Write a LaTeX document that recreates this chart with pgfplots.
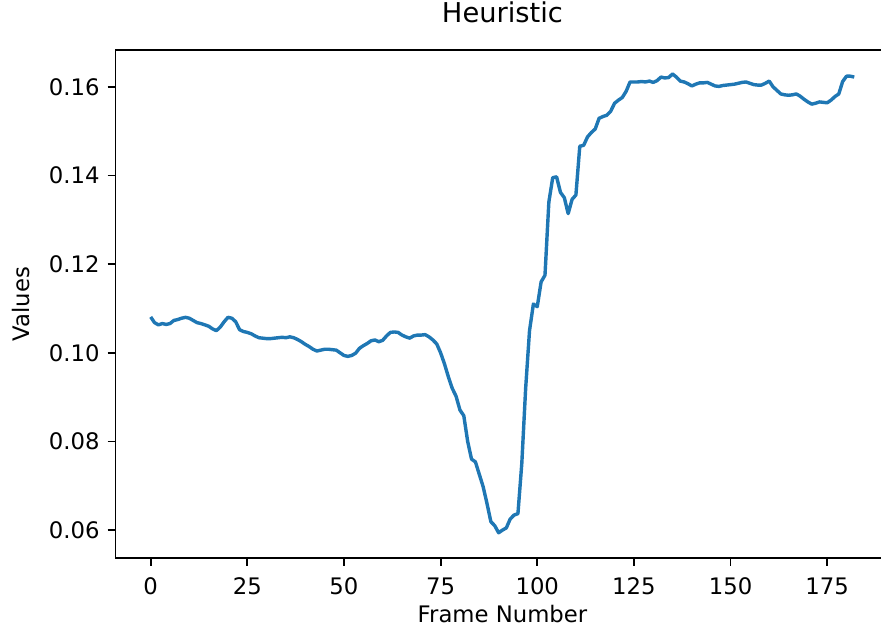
\documentclass[border=0pt]{standalone}
\usepackage{pgfplots}
\pgfplotsset{compat=1.18}
\usepackage{fontspec}
\setmainfont{DejaVu Sans}
\definecolor{mplblue}{HTML}{1F77B4}

\begin{document}
\begin{tikzpicture}
\begin{axis}[
  at={(0,0)}, anchor=south west,
  scale only axis,
  width=340.2pt, height=223.2pt,
  xmin=-9.1, xmax=191.1,
  ymin=0.05375, ymax=0.1683,
  axis line style={black, line width=0.8pt},
  tick pos=left,
  tick align=outside,
  major tick length=3.5pt,
  every tick/.style={black, line width=0.8pt},
  xtick={0,25,50,75,100,125,150,175},
  ytick={0.06,0.08,0.10,0.12,0.14,0.16},
  /pgf/number format/assume math mode=true,
  yticklabel style={/pgf/number format/fixed, /pgf/number format/fixed zerofill,
    /pgf/number format/precision=2, font=\fontsize{10}{12}\selectfont},
  xticklabel style={font=\fontsize{10}{12}\selectfont, anchor=base, yshift=-12.6pt},
  scaled y ticks=false,
  title={Heuristic},
  title style={at={(axis description cs:0.5,1.0264)}, anchor=base, font=\fontsize{12}{14}\selectfont},
  xlabel={Frame Number},
  xlabel style={at={(axis description cs:0.5,-0.1268)}, anchor=base, font=\fontsize{10}{12}\selectfont},
  ylabel={Values},
  ylabel style={at={(axis description cs:-0.1105,0.5)}, anchor=base, font=\fontsize{10}{12}\selectfont},
  clip=false,
]
\addplot[mplblue, line width=1.5pt, line join=round] table {
x y
0 0.1081
1 0.1068
2 0.1063
3 0.1066
4 0.1064
5 0.1066
6 0.1073
7 0.1075
8 0.1078
9 0.1080
10 0.1078
11 0.1073
12 0.1068
13 0.1066
14 0.1063
15 0.1060
16 0.1054
17 0.1050
18 0.1058
19 0.1070
20 0.1080
21 0.1078
22 0.1070
23 0.1052
24 0.1048
25 0.1046
26 0.1043
27 0.1038
28 0.1034
29 0.1033
30 0.1032
31 0.1032
32 0.1033
33 0.1034
34 0.1035
35 0.1034
36 0.1036
37 0.1034
38 0.1030
39 0.1025
40 0.1019
41 0.1014
42 0.1008
43 0.1004
44 0.1006
45 0.1008
46 0.1008
47 0.1007
48 0.1006
49 0.1000
50 0.0994
51 0.0992
52 0.0994
53 0.0999
54 0.1010
55 0.1016
56 0.1021
57 0.1027
58 0.1029
59 0.1025
60 0.1028
61 0.1038
62 0.1046
63 0.1047
64 0.1046
65 0.1040
66 0.1036
67 0.1033
68 0.1038
69 0.1040
70 0.1040
71 0.1041
72 0.1036
73 0.1029
74 0.1020
75 0.1000
76 0.0975
77 0.0946
78 0.0920
79 0.0902
80 0.0871
81 0.0858
82 0.0800
83 0.0760
84 0.0754
85 0.0726
86 0.0698
87 0.0660
88 0.0619
89 0.0610
90 0.0594
91 0.0600
92 0.0605
93 0.0625
94 0.0634
95 0.0637
96 0.0750
97 0.0920
98 0.1050
99 0.1110
100 0.1104
101 0.1160
102 0.1175
103 0.1340
104 0.1395
105 0.1397
106 0.1362
107 0.1350
108 0.1314
109 0.1346
110 0.1356
111 0.1466
112 0.1468
113 0.1487
114 0.1497
115 0.1505
116 0.1529
117 0.1533
118 0.1536
119 0.1545
120 0.1563
121 0.1570
122 0.1576
123 0.1590
124 0.1611
125 0.1611
126 0.1611
127 0.1612
128 0.1611
129 0.1613
130 0.1610
131 0.1614
132 0.1622
133 0.1620
134 0.1621
135 0.1629
136 0.1622
137 0.1613
138 0.1611
139 0.1607
140 0.1602
141 0.1606
142 0.1609
143 0.1609
144 0.1610
145 0.1606
146 0.1602
147 0.1601
148 0.1603
149 0.1604
150 0.1605
151 0.1606
152 0.1608
153 0.1610
154 0.1611
155 0.1608
156 0.1605
157 0.1604
158 0.1604
159 0.1608
160 0.1613
161 0.1600
162 0.1592
163 0.1584
164 0.1582
165 0.1581
166 0.1582
167 0.1584
168 0.1579
169 0.1572
170 0.1566
171 0.1561
172 0.1563
173 0.1566
174 0.1565
175 0.1564
176 0.1570
177 0.1578
178 0.1584
179 0.1612
180 0.1624
181 0.1624
182 0.1622
};
\end{axis}
\pgfresetboundingbox
\path[use as bounding box] (-50.77pt,-30.9pt) rectangle (336.5pt,245.2pt);
\end{tikzpicture}
\end{document}
